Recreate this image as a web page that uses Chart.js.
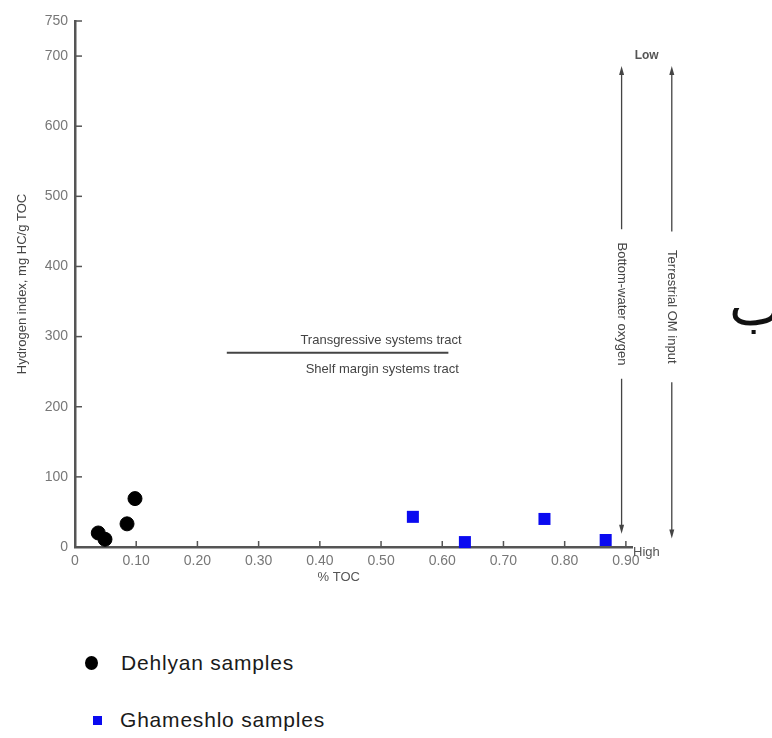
<!DOCTYPE html>
<html>
<head>
<meta charset="utf-8">
<script src="https://cdn.jsdelivr.net/npm/chart.js@4.4.0/dist/chart.umd.min.js"></script>
<style>
body{margin:0;background:#fff;font-family:"Liberation Sans",Arial,sans-serif;}
#wrap{position:relative;width:772px;height:738px;overflow:hidden;background:#fff;}
#chart_box{position:absolute;left:0;top:0;width:772px;height:600px;}
.legend_row{position:absolute;display:flex;align-items:center;font-size:21px;letter-spacing:0.8px;color:#1a1a1a;}
.dot{width:13px;height:14px;border-radius:50%;background:#000;margin-right:23px;}
.sq{width:9px;height:9px;background:#0a0af0;margin-right:18px;}
</style>
</head>
<body>
<div id="wrap">
  <div id="chart_box"><canvas id="tocChart"></canvas></div>
  <div class="legend_row" style="left:85px;top:651px;"><div class="dot"></div>Dehlyan samples</div>
  <div class="legend_row" style="left:93px;top:708px;"><div class="sq"></div>Ghameshlo samples</div>
</div>
<script>
// values
const dehlyan_toc=[0.038,0.049,0.085,0.098];
const dehlyan_hi=[20,11,33,69];
const ghameshlo_toc=[0.552,0.637,0.767,0.867];
const ghameshlo_hi=[43,7,40,10];
const tract_line_toc=[0.248,0.61];
const tract_line_hi=[277,277];
const x_tick_values=[0,0.1,0.2,0.3,0.4,0.5,0.6,0.7,0.8,0.9];
const x_tick_labels=['0','0.10','0.20','0.30','0.40','0.50','0.60','0.70','0.80','0.90'];
const y_tick_values=[0,100,200,300,400,500,600,700,750];
const y_tick_labels=['0','100','200','300','400','500','600','700','750'];

function to_points(xs,ys){
    return xs.map((x,i)=>({x:x,y:ys[i]}));
}

// arrows, inside ticks and the small texts
const extras_plugin={
    id:'extras',
    afterDraw(chart){
        const ctx=chart.ctx;
        const xs=chart.scales.x, ys=chart.scales.y;
        const area=chart.chartArea;
        ctx.save();
        ctx.strokeStyle='#555';
        ctx.lineWidth=1.5;
        // ticks pointing inside
        ys.ticks.forEach(t=>{
            const py=ys.getPixelForValue(t.value);
            ctx.beginPath();ctx.moveTo(area.left,py);ctx.lineTo(area.left+7,py);ctx.stroke();
        });
        xs.ticks.forEach(t=>{
            if(t.value===0) return;
            const px=xs.getPixelForValue(t.value);
            ctx.beginPath();ctx.moveTo(px,area.bottom);ctx.lineTo(px,area.bottom-6);ctx.stroke();
        });

        ctx.fillStyle='#444';
        ctx.font='13px "Liberation Sans", Arial, sans-serif';
        ctx.textAlign='center';
        ctx.textBaseline='middle';
        ctx.fillText('Transgressive systems tract',xs.getPixelForValue(0.5),ys.getPixelForValue(294));
        ctx.fillText('Shelf margin systems tract',xs.getPixelForValue(0.502),ys.getPixelForValue(253));
        ctx.fillStyle='#555';
        ctx.fillText('% TOC',xs.getPixelForValue(0.431),area.bottom+30);

        // two vertical arrows with the text in a gap
        const arrows=[
            {x:0.893,top:686,gap_top:453,gap_bottom:240,bottom:19,label:'Bottom-water oxygen'},
            {x:0.975,top:686,gap_top:450,gap_bottom:235,bottom:12,label:'Terrestrial OM input'}
        ];
        ctx.strokeStyle='#444';
        ctx.fillStyle='#444';
        ctx.lineWidth=1.3;
        arrows.forEach(a=>{
            const px=xs.getPixelForValue(a.x);
            const y_top=ys.getPixelForValue(a.top), y_bot=ys.getPixelForValue(a.bottom);
            ctx.beginPath();
            ctx.moveTo(px,y_top+6);ctx.lineTo(px,ys.getPixelForValue(a.gap_top));
            ctx.moveTo(px,ys.getPixelForValue(a.gap_bottom));ctx.lineTo(px,y_bot-6);
            ctx.stroke();
            ctx.beginPath();ctx.moveTo(px,y_top);ctx.lineTo(px-2.5,y_top+9);ctx.lineTo(px+2.5,y_top+9);ctx.closePath();ctx.fill();
            ctx.beginPath();ctx.moveTo(px,y_bot);ctx.lineTo(px-2.5,y_bot-9);ctx.lineTo(px+2.5,y_bot-9);ctx.closePath();ctx.fill();
            ctx.save();
            ctx.translate(px,(ys.getPixelForValue(a.gap_top)+ys.getPixelForValue(a.gap_bottom))/2);
            ctx.rotate(Math.PI/2);
            ctx.font='13px "Liberation Sans", Arial, sans-serif';
            ctx.fillStyle='#444';
            ctx.fillText(a.label,0,0);
            ctx.restore();
        });
        ctx.fillStyle='#555';
        ctx.font='bold 12px "Liberation Sans", Arial, sans-serif';
        ctx.fillText('Low',xs.getPixelForValue(0.934),ys.getPixelForValue(701));
        ctx.font='13px "Liberation Sans", Arial, sans-serif';
        ctx.textAlign='left';
        ctx.fillText('High',area.right+1,area.bottom+5);

        ctx.fillStyle='#111';
        ctx.font='56px "DejaVu Sans", sans-serif';
        ctx.fillText('ب',729,310);
        ctx.restore();
    }
};

function toc_chart_generator(){
    const ctx=document.getElementById('tocChart').getContext('2d');
    const tocChart=new Chart(ctx,{
        type:'scatter',
        data:{
            datasets:[{
                label:'Dehlyan samples',
                data:to_points(dehlyan_toc,dehlyan_hi),
                pointStyle:'circle',
                pointRadius:7,
                backgroundColor:'#000',
                borderColor:'#000',
                clip:false
            },
            {
                label:'Ghameshlo samples',
                data:to_points(ghameshlo_toc,ghameshlo_hi),
                pointStyle:'rect',
                pointRadius:8.5,
                backgroundColor:'#0a0af0',
                borderColor:'#0a0af0',
                borderWidth:0,
                clip:false
            },
            {
                label:'tract',
                data:to_points(tract_line_toc,tract_line_hi),
                showLine:true,
                pointRadius:0,
                borderColor:'#444',
                borderWidth:2
            }]
        },
        options:{
            responsive:true,
            maintainAspectRatio:false,
            animation:false,
            layout:{padding:{top:21,right:140,left:0,bottom:0}},
            plugins:{legend:{display:false},tooltip:{enabled:false}},
            scales:{
                x:{
                    type:'linear',
                    min:0,
                    max:0.91,
                    afterBuildTicks(scale){ scale.ticks=x_tick_values.map(v=>({value:v})); },
                    afterFit(scale){ scale.height=53; },
                    grid:{display:false,drawTicks:false},
                    border:{display:true,color:'#555',width:2.5},
                    ticks:{
                        padding:6,
                        color:'#777',
                        font:{size:14,family:'"Liberation Sans", Arial, sans-serif'},
                        callback:(v,i)=>x_tick_labels[i]
                    }
                },
                y:{
                    type:'linear',
                    min:0,
                    max:750,
                    afterBuildTicks(scale){ scale.ticks=y_tick_values.map(v=>({value:v})); },
                    afterFit(scale){ scale.width=75; },
                    grid:{display:false,drawTicks:false},
                    border:{display:true,color:'#555',width:2.5},
                    title:{
                        display:true,
                        text:'Hydrogen index, mg HC/g TOC',
                        color:'#444',
                        font:{size:13,family:'"Liberation Sans", Arial, sans-serif'},
                        padding:{top:15,bottom:0}
                    },
                    ticks:{
                        padding:7,
                        color:'#777',
                        font:{size:14,family:'"Liberation Sans", Arial, sans-serif'},
                        callback:(v,i)=>y_tick_labels[i]
                    }
                }
            }
        },
        plugins:[extras_plugin]
    });
}
toc_chart_generator();
</script>
</body>
</html>
